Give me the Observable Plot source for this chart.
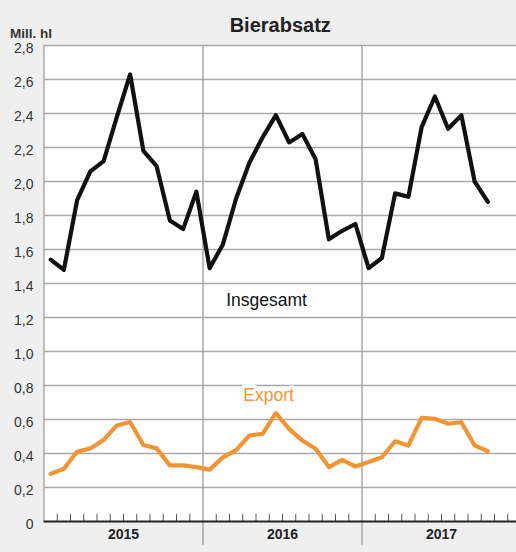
<!DOCTYPE html>
<html>
<head>
<meta charset="utf-8">
<script src="https://cdn.jsdelivr.net/npm/d3@7"></script>
<script src="https://cdn.jsdelivr.net/npm/@observablehq/plot@0.6"></script>
<style>
  html, body { margin: 0; padding: 0; background: #efefef; }
  #chart svg { display: block; }
</style>
</head>
<body>
<div id="chart"></div>
<script>
// ---- data ----
const months = [
  "2015-01","2015-02","2015-03","2015-04","2015-05","2015-06","2015-07","2015-08","2015-09","2015-10","2015-11","2015-12",
  "2016-01","2016-02","2016-03","2016-04","2016-05","2016-06","2016-07","2016-08","2016-09","2016-10","2016-11","2016-12",
  "2017-01","2017-02","2017-03","2017-04","2017-05","2017-06","2017-07","2017-08","2017-09","2017-10"
];
const insgesamt = [
  1.54, 1.48, 1.89, 2.06, 2.12, 2.38, 2.63, 2.18, 2.09, 1.77, 1.72, 1.94,
  1.49, 1.63, 1.90, 2.11, 2.26, 2.39, 2.23, 2.28, 2.13, 1.66, 1.71, 1.75,
  1.49, 1.55, 1.93, 1.91, 2.32, 2.50, 2.31, 2.39, 2.00, 1.88
];
const exportVals = [
  0.28, 0.31, 0.41, 0.43, 0.48, 0.565, 0.585, 0.45, 0.43, 0.33, 0.33, 0.32,
  0.305, 0.377, 0.42, 0.506, 0.516, 0.637, 0.545, 0.476, 0.428, 0.32, 0.363, 0.324,
  0.35, 0.378, 0.472, 0.447, 0.61, 0.604, 0.575, 0.584, 0.447, 0.414
];
const years = ["2015", "2016", "2017"];
const yTicks = [0, 0.2, 0.4, 0.6, 0.8, 1.0, 1.2, 1.4, 1.6, 1.8, 2.0, 2.2, 2.4, 2.6, 2.8];
const seriesLabels = [
  {name: "Insgesamt", month: 16.8, value: 1.30, color: "#111"},
  {name: "Export", month: 16.95, value: 0.74, color: "#f39434"}
];

// ---- derived tables ----
const idx = d3.range(months.length);
const rows = idx.map(i => ({i, m: months[i], total: insgesamt[i], exp: exportVals[i]}));
const yearStarts = years.map((y, k) => k * 12);
const monthBounds = d3.range(1, 36).filter(b => b % 12 !== 0);
const fmt = d => d === 0 ? "0" : d.toFixed(1).replace(".", ",");
const font = "'Liberation Sans', Arial, Helvetica, sans-serif";

const chart = Plot.plot({
  width: 516,
  height: 552,
  marginLeft: 43.5,
  marginRight: 0,
  marginTop: 45,
  marginBottom: 31,
  style: {background: "transparent", fontFamily: font, overflow: "visible"},
  x: {domain: [0, 36], range: [43.5, 520.5], axis: null},
  y: {domain: [0, 2.8], axis: null},
  marks: [
    Plot.frame({fill: "white", stroke: "none"}),
    Plot.ruleY(yTicks.filter(t => t > 0), {stroke: "#a9a9a9", strokeWidth: 1.4}),
    Plot.ruleX([0], {stroke: "#a9a9a9", strokeWidth: 1.4}),
    Plot.ruleX(yearStarts.filter(s => s > 0), {y1: -0.14, y2: 2.8, stroke: "#a0a0a0", strokeWidth: 1.4}),
    Plot.ruleX(monthBounds, {y1: 0, y2: 0.042, stroke: "#555", strokeWidth: 1}),
    Plot.ruleY([0], {stroke: "#222", strokeWidth: 2}),
    Plot.line(rows, {x: d => d.i + 0.5, y: "exp", stroke: "#f39434", strokeWidth: 4.2, strokeLinejoin: "round", strokeLinecap: "round"}),
    Plot.line(rows, {x: d => d.i + 0.5, y: "total", stroke: "#111", strokeWidth: 4.2, strokeLinejoin: "round", strokeLinecap: "round"}),
    Plot.text(seriesLabels, {x: "month", y: "value", text: "name", fill: "color", stroke: "white", strokeWidth: 7, fontSize: 17.5}),
    Plot.axisY(yTicks, {tickSize: 0, tickPadding: 10.5, tickFormat: fmt, fontSize: 14, fill: "#333", dy: 3.5, label: null}),
    Plot.text(years, {x: (d, k) => yearStarts[k] + 6, frameAnchor: "bottom", dy: 17, fontSize: 14, fontWeight: "bold", fill: "#222"}),
    Plot.text(["Bierabsatz"], {frameAnchor: "top", dy: -28, fontSize: 20, fontWeight: "bold", fill: "#222"}),
    Plot.text(["Mill. hl"], {frameAnchor: "top-left", dx: -34, dy: -17, textAnchor: "start", fontSize: 13.5, fontWeight: "bold", fill: "#333"})
  ]
});
document.getElementById("chart").append(chart);
</script>
</body>
</html>
